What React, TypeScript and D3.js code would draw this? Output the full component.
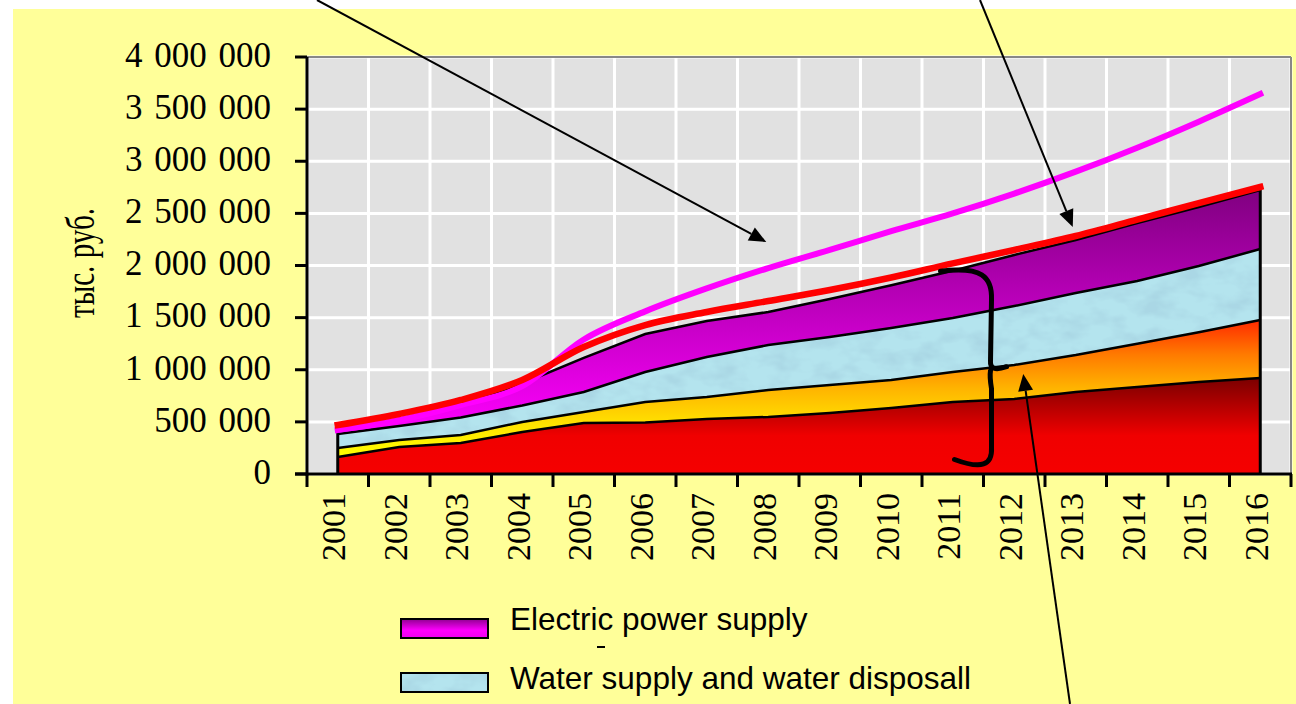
import React from 'react';
import * as d3 from 'd3';

// years on the category axis
const years = ['2001', '2002', '2003', '2004', '2005', '2006', '2007', '2008',
  '2009', '2010', '2011', '2012', '2013', '2014', '2015', '2016'];

// stacked layers, тыс. руб. (bottom to top)
const heatSupply = [163000, 259000, 297000, 403000, 489000, 495000, 528000, 547000,
  585000, 633000, 691000, 719000, 787000, 834000, 882000, 921000];
const gasSupply = [86000, 67000, 77000, 96000, 106000, 196000, 211000, 259000,
  269000, 269000, 287000, 327000, 354000, 416000, 478000, 556000];
const waterSupply = [135000, 134000, 168000, 158000, 192000, 287000, 383000, 431000,
  460000, 498000, 518000, 565000, 595000, 601000, 635000, 681000];
const electricSupply = [38000, 68000, 124000, 211000, 326000, 365000, 346000, 317000,
  365000, 410000, 454000, 490000, 509000, 557000, 566000, 566000];

// the two lines drawn over the stack
const totalLine = [470000, 576000, 710000, 902000, 1218000, 1429000, 1554000, 1659000,
  1765000, 1885000, 2020000, 2149000, 2283000, 2440000, 2599000, 2753000];
const demandLine = [422000, 518000, 662000, 844000, 1290000, 1560000, 1780000, 1975000,
  2150000, 2330000, 2500000, 2690000, 2900000, 3130000, 3380000, 3645000];

const legendLabels = ['Electric power supply', 'Water supply and water disposall'];
const yAxisTitle = 'тыс. руб.';

const W = 1296;
const H = 704;
const plot = { left: 307, right: 1291, top: 57, bottom: 474 };

const arrowHead = (x1, y1, x2, y2, len = 17, half = 7.5) => {
  const a = Math.atan2(y2 - y1, x2 - x1);
  const bx = x2 - len * Math.cos(a);
  const by = y2 - len * Math.sin(a);
  return {
    base: [bx, by],
    points: `${x2},${y2} ${bx + half * Math.sin(a)},${by - half * Math.cos(a)} ${bx - half * Math.sin(a)},${by + half * Math.cos(a)}`,
  };
};

const App = () => {
  const x = d3.scaleBand().domain(years).range([plot.left, plot.right]);
  const cx = (yr) => x(yr) + x.bandwidth() / 2;
  const y = d3.scaleLinear().domain([0, 4000000]).range([plot.bottom, plot.top]);

  const rows = years.map((yr, i) => ({
    year: yr,
    heat: heatSupply[i],
    gas: gasSupply[i],
    water: waterSupply[i],
    electric: electricSupply[i],
  }));
  const series = d3.stack().keys(['heat', 'gas', 'water', 'electric'])(rows);

  const area = d3.area()
    .x(d => cx(d.data.year))
    .y0(d => y(d[0]))
    .y1(d => y(d[1]));
  const topEdge = d3.line()
    .x(d => cx(d.data.year))
    .y(d => y(d[1]));
  const valueLine = d3.line()
    .x((_, i) => cx(years[i]))
    .y(v => y(v))
    .curve(d3.curveMonotoneX);

  const yTicks = y.ticks(8);
  const fmt = v => d3.format(',')(v).replace(/,/g, ' ');
  const boundaries = years.map(yr => x(yr)).concat([plot.right]);

  const gradTop = s => y(d3.max(s, d => d[1]));
  const gradBottom = s => y(d3.min(s, d => d[0]));
  const fills = ['url(#gHeat)', 'url(#gGas)', '#b4e4ee', 'url(#gElec)'];

  const first = years[0];
  const last = years[years.length - 1];
  const stackTop = series[series.length - 1];

  // annotation arrows (start off-chart, tip on the data)
  const arrows = [
    { from: [317, 0], to: [cx('2008') - 2, y(2225000)] },
    { from: [980, 0], to: [cx('2013') - 3, y(2370000)] },
    { from: [1070, H], to: [cx('2012') + 9, y(960000)] },
  ];

  // curly brace spanning the stack at the 2011/2012 boundary
  const bx = x('2012') + 8;
  const bTop = y(1955000);
  const bMid = y(1010000);
  const bBot = y(120000);
  const brace = `M ${bx - 51} ${bTop + 1} C ${bx - 10} ${bTop - 4}, ${bx + 1} ${bTop + 6}, ${bx} ${bTop + 30}
    L ${bx - 1} ${bMid - 8} Q ${bx - 2} ${bMid + 4}, ${bx + 15} ${bMid - 2}
    M ${bx - 1} ${bMid + 2} Q ${bx - 2} ${bMid + 8}, ${bx} ${bMid + 20}
    L ${bx} ${bBot - 14} C ${bx + 1} ${bBot + 4}, ${bx - 10} ${bBot + 8}, ${bx - 37} ${bBot - 2}`;

  return (
    <svg width={W} height={H} style={{ position: 'absolute', left: 0, top: 0, background: '#fff' }}>
      <defs>
        <linearGradient id="gHeat" gradientUnits="userSpaceOnUse" x1="0" x2="0"
          y1={gradTop(series[0])} y2={plot.bottom}>
          <stop offset="0" stopColor="#7a0000" />
          <stop offset="0.6" stopColor="#f00000" />
          <stop offset="1" stopColor="#f50000" />
        </linearGradient>
        <linearGradient id="gGas" gradientUnits="userSpaceOnUse" x1="0" x2="0"
          y1={gradTop(series[1])} y2={gradBottom(series[1])}>
          <stop offset="0" stopColor="#ff2a00" />
          <stop offset="0.25" stopColor="#ff7a00" />
          <stop offset="0.5" stopColor="#ffb400" />
          <stop offset="0.75" stopColor="#ffe000" />
          <stop offset="1" stopColor="#ffff00" />
        </linearGradient>
        <linearGradient id="gElec" gradientUnits="userSpaceOnUse" x1="0" x2="0"
          y1={gradTop(series[3])} y2={gradBottom(series[3])}>
          <stop offset="0" stopColor="#800080" />
          <stop offset="1" stopColor="#ff00ff" />
        </linearGradient>
        <linearGradient id="gLegendElec" x1="0" x2="0" y1="0" y2="1">
          <stop offset="0" stopColor="#900090" />
          <stop offset="0.6" stopColor="#ff00ff" />
          <stop offset="1" stopColor="#f000f0" />
        </linearGradient>
        <filter id="waterTex" x="0" y="0" width="100%" height="100%">
          <feTurbulence type="fractalNoise" baseFrequency="0.035 0.06" numOctaves="3" seed="7" result="noise" />
          <feColorMatrix in="noise" type="matrix"
            values="0 0 0 0 0.40  0 0 0 0 0.68  0 0 0 0 0.78  2.6 0 0 0 -1.05" result="spots" />
          <feComposite in="spots" in2="SourceAlpha" operator="in" />
        </filter>
      </defs>

      {/* page background */}
      <rect x={13} y={9} width={W - 13} height={H - 9} fill="#ffff99" />

      {/* plot area + grid */}
      <rect x={plot.left} y={plot.top} width={plot.right - plot.left} height={plot.bottom - plot.top} fill="#e1e1e1" />
      {yTicks.map(t => (
        <line key={'gy' + t} x1={plot.left} x2={plot.right} y1={y(t)} y2={y(t)} stroke="#fff" strokeWidth={3} />
      ))}
      {boundaries.map((b, i) => (
        <line key={'gx' + i} x1={b} x2={b} y1={plot.top} y2={plot.bottom} stroke="#fff" strokeWidth={3} />
      ))}
      <line x1={plot.left} x2={plot.right} y1={plot.top} y2={plot.top} stroke="#888" strokeWidth={2} />
      <line x1={plot.right} x2={plot.right} y1={plot.top} y2={plot.bottom} stroke="#888" strokeWidth={2} />

      {/* stacked areas */}
      {series.map((s, i) => (
        <path key={s.key} d={area(s)} fill={fills[i]} />
      ))}
      <path d={area(series[2])} fill="#000" filter="url(#waterTex)" />
      {series.map(s => (
        <path key={'e' + s.key} d={topEdge(s)} fill="none" stroke="#000" strokeWidth={2.5} />
      ))}
      <line x1={cx(first)} x2={cx(first)} y1={plot.bottom} y2={y(stackTop[0][1])} stroke="#000" strokeWidth={3} />
      <line x1={cx(last)} x2={cx(last)} y1={plot.bottom} y2={y(stackTop[stackTop.length - 1][1])} stroke="#000" strokeWidth={3} />

      {/* lines */}
      <path d={valueLine(demandLine)} fill="none" stroke="#ff00ff" strokeWidth={6} strokeLinecap="square" />
      <path d={valueLine(totalLine)} fill="none" stroke="#ff0000" strokeWidth={6.5} strokeLinecap="square" />

      {/* axes */}
      <line x1={plot.left} x2={plot.left} y1={plot.top} y2={plot.bottom + 1.5} stroke="#000" strokeWidth={3} />
      <line x1={plot.left - 12} x2={plot.right + 1} y1={plot.bottom} y2={plot.bottom} stroke="#000" strokeWidth={3} />
      {yTicks.map(t => (
        <g key={'ty' + t}>
          <line x1={plot.left - 12} x2={plot.left} y1={y(t)} y2={y(t)} stroke="#000" strokeWidth={3} />
          <text x={271} y={y(t)} dy="0.28em" textAnchor="end"
            style={{ fontFamily: '"Liberation Serif", serif', fontSize: 35, wordSpacing: 3 }}>
            {fmt(t)}
          </text>
        </g>
      ))}
      {boundaries.map((b, i) => (
        <line key={'tx' + i} x1={b} x2={b} y1={plot.bottom} y2={plot.bottom + 13} stroke="#000" strokeWidth={3} />
      ))}
      {years.map(yr => (
        <text key={'lx' + yr} transform={`translate(${cx(yr) - 4},493) rotate(-90)`} dy="0.34em" textAnchor="end"
          style={{ fontFamily: '"Liberation Serif", serif', fontSize: 34 }}>
          {yr}
        </text>
      ))}
      <text transform="translate(82,263) rotate(-90)" dy="0.3em" textAnchor="middle"
        textLength={110} lengthAdjust="spacingAndGlyphs"
        style={{ fontFamily: '"Liberation Serif", serif', fontSize: 40 }}>
        {yAxisTitle}
      </text>

      {/* legend */}
      <rect x={401} y={619} width={87} height={19} fill="url(#gLegendElec)" stroke="#000" strokeWidth={2} />
      <text x={510} y={630} style={{ fontFamily: '"Liberation Sans", Arial, sans-serif', fontSize: 31.5 }}>
        {legendLabels[0]}
      </text>
      <line x1={597} x2={605} y1={647} y2={647} stroke="#000" strokeWidth={2} />
      <rect x={401} y={673} width={87} height={19} fill="#b4e4ee" />
      <rect x={401} y={673} width={87} height={19} fill="#000" filter="url(#waterTex)" />
      <rect x={401} y={673} width={87} height={19} fill="none" stroke="#000" strokeWidth={2} />
      <text x={510} y={689} style={{ fontFamily: '"Liberation Sans", Arial, sans-serif', fontSize: 31.5 }}>
        {legendLabels[1]}
      </text>

      {/* annotations */}
      {arrows.map((a, i) => {
        const h = arrowHead(a.from[0], a.from[1], a.to[0], a.to[1]);
        return (
          <g key={'ar' + i}>
            <line x1={a.from[0]} y1={a.from[1]} x2={h.base[0]} y2={h.base[1]} stroke="#000" strokeWidth={2} />
            <polygon points={h.points} fill="#000" />
          </g>
        );
      })}
      <path d={brace} fill="none" stroke="#000" strokeWidth={5} strokeLinecap="round" strokeLinejoin="round" />
    </svg>
  );
};

export default App;
